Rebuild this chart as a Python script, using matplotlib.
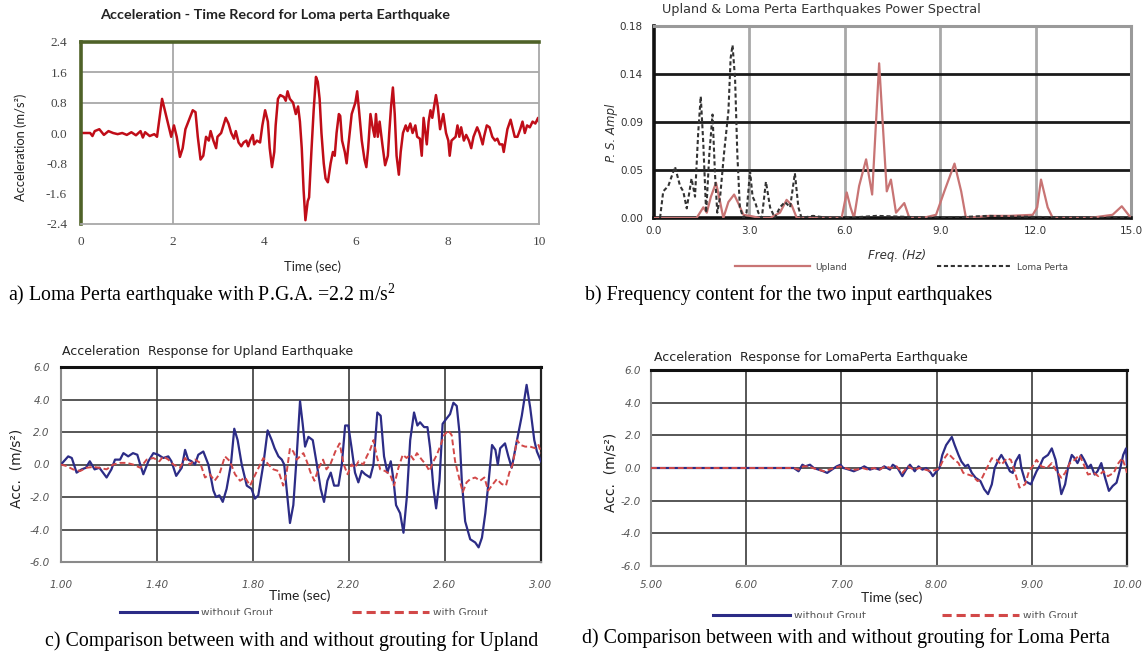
import matplotlib
matplotlib.use("Agg")
import matplotlib.pyplot as plt
from matplotlib.transforms import Bbox, TransformedBbox

# ---------------- data ----------------
# (a) Loma Perta acceleration record
lp_time = [0.00, 0.20, 0.25, 0.30, 0.40, 0.50, 0.60, 0.70, 0.80, 0.90,
           1.00, 1.10, 1.20, 1.30, 1.35, 1.40, 1.50, 1.60, 1.66, 1.77,
           1.97, 2.03, 2.09, 2.16, 2.22, 2.28, 2.44, 2.50, 2.55, 2.61,
           2.67, 2.73, 2.79, 2.83, 2.89, 2.95, 2.98, 3.06, 3.16, 3.22,
           3.28, 3.34, 3.38, 3.44, 3.50, 3.55, 3.61, 3.65, 3.69, 3.75,
           3.78, 3.84, 3.91, 3.96, 4.02, 4.08, 4.12, 4.17, 4.22, 4.25,
           4.30, 4.35, 4.43, 4.47, 4.51, 4.56, 4.63, 4.69, 4.74, 4.78,
           4.82, 4.86, 4.90, 4.95, 4.98, 5.03, 5.08, 5.13, 5.17, 5.21,
           5.25, 5.30, 5.34, 5.39, 5.45, 5.50, 5.54, 5.58, 5.63, 5.66,
           5.70, 5.76, 5.80, 5.84, 5.91, 5.99, 6.03, 6.07, 6.13, 6.19,
           6.23, 6.27, 6.32, 6.36, 6.41, 6.44, 6.48, 6.52, 6.58, 6.64,
           6.70, 6.73, 6.77, 6.81, 6.85, 6.89, 6.94, 6.98, 7.03, 7.09,
           7.13, 7.19, 7.24, 7.30, 7.34, 7.40, 7.44, 7.48, 7.52, 7.55,
           7.59, 7.63, 7.67, 7.71, 7.75, 7.79, 7.84, 7.91, 7.97, 8.02,
           8.05, 8.09, 8.18, 8.22, 8.26, 8.30, 8.36, 8.41, 8.47, 8.52,
           8.57, 8.65, 8.70, 8.77, 8.80, 8.86, 8.92, 8.98, 9.04, 9.09,
           9.14, 9.20, 9.23, 9.27, 9.31, 9.38, 9.41, 9.47, 9.53, 9.59,
           9.64, 9.69, 9.74, 9.80, 9.86, 9.92, 9.98, 10.00]
lp_acc = [0.00, 0.00, -0.08, 0.05, 0.10, -0.05, 0.05, 0.00, -0.03, 0.00,
          -0.05, 0.02, -0.06, 0.05, -0.12, 0.02, -0.08, -0.03, -0.10, 0.90,
          -0.10, 0.20, -0.10, -0.63, -0.40, 0.10, 0.60, 0.55, -0.10, -0.70,
          -0.60, -0.10, -0.20, 0.05, -0.20, -0.40, -0.10, 0.00, 0.40, 0.25,
          0.00, -0.15, 0.05, -0.25, -0.35, -0.25, -0.20, -0.35, -0.20, -0.05,
          -0.30, -0.20, -0.25, 0.20, 0.60, 0.30, -0.40, -0.90, -0.50, 0.20,
          0.90, 1.00, 0.95, 0.85, 1.10, 0.90, 0.80, 0.50, 0.70, 0.30,
          -0.40, -1.50, -2.30, -1.80, -1.70, -0.50, 0.60, 1.48, 1.35, 0.90,
          0.00, -0.80, -1.20, -1.30, -0.80, -0.50, -0.60, 0.00, 0.50, 0.45,
          -0.20, -0.50, -0.80, -0.30, 0.50, 0.80, 1.10, 0.60, -0.20, -0.70,
          -0.90, -0.40, 0.50, 0.20, -0.10, 0.50, -0.10, 0.30, -0.30, -0.85,
          -0.60, 0.00, 0.70, 1.20, 0.50, -0.60, -1.10, -0.50, 0.00, 0.20,
          0.05, 0.25, 0.00, 0.20, -0.10, -0.15, -0.60, 0.40, 0.00, -0.30,
          0.30, 0.60, 0.40, 0.70, 1.00, 0.70, 0.10, 0.50, 0.00, -0.20,
          -0.60, -0.20, -0.10, 0.20, -0.10, 0.15, -0.20, -0.05, -0.20, -0.40,
          -0.10, 0.15, 0.00, -0.30, -0.10, 0.20, 0.15, -0.10, -0.20, -0.15,
          -0.30, -0.30, -0.50, -0.20, 0.10, 0.35, 0.20, -0.10, -0.10, 0.10,
          0.30, 0.00, 0.20, 0.15, 0.30, 0.25, 0.40, 0.30]

# (b) power spectra
up_freq = [0.0, 1.34, 1.55, 1.66, 1.79, 1.95, 2.08, 2.18, 2.34, 2.52,
           2.68, 2.81, 3.02, 3.33, 3.65, 3.96, 4.17, 4.33, 4.49, 5.90,
           6.06, 6.18, 6.29, 6.45, 6.67, 6.86, 7.08, 7.19, 7.32, 7.45,
           7.61, 7.87, 8.03, 8.45, 8.87, 9.13, 9.45, 9.66, 9.81, 10.55,
           11.18, 11.91, 12.05, 12.17, 12.38, 12.54, 13.69, 14.42, 14.71, 15.0]
up_amp = [0.0, 0.0, 0.010, 0.005, 0.020, 0.033, 0.015, 0.0, 0.015, 0.022,
          0.012, 0.003, 0.002, 0.0, 0.0, 0.005, 0.017, 0.012, 0.0, 0.0,
          0.024, 0.010, 0.0, 0.030, 0.055, 0.022, 0.145, 0.090, 0.025, 0.036,
          0.005, 0.014, 0.0, 0.0, 0.003, 0.025, 0.051, 0.025, 0.0, 0.002,
          0.002, 0.003, 0.010, 0.036, 0.010, 0.0, 0.0, 0.003, 0.011, 0.0]
lpf_freq = [0.19, 0.29, 0.45, 0.66, 0.82, 0.92, 1.03, 1.18, 1.29, 1.39,
            1.47, 1.55, 1.64, 1.74, 1.84, 1.92, 1.99, 2.08, 2.20, 2.34,
            2.41, 2.47, 2.55, 2.62, 2.70, 2.81, 2.91, 3.02, 3.10, 3.18,
            3.28, 3.39, 3.52, 3.65, 3.80, 3.96, 4.12, 4.28, 4.43, 4.54,
            4.64, 5.0, 5.5, 6.0, 7.0, 8.0, 9.0, 10.5, 12.0, 15.0]
lpf_amp = [0.0, 0.025, 0.03, 0.048, 0.03, 0.025, 0.009, 0.037, 0.02, 0.08,
           0.114, 0.07, 0.005, 0.06, 0.097, 0.04, 0.005, 0.02, 0.06, 0.10,
           0.15, 0.162, 0.13, 0.06, 0.01, 0.0, 0.005, 0.044, 0.02, 0.015,
           0.005, 0.0, 0.034, 0.01, 0.0, 0.01, 0.015, 0.01, 0.042, 0.01,
           0.0, 0.002, 0.0, 0.0, 0.002, 0.001, 0.0, 0.002, 0.001, 0.0]

# (c) Upland response
cu_t_wo = [1.000, 1.030, 1.045, 1.065, 1.086, 1.104, 1.120, 1.140, 1.160, 1.190,
           1.210, 1.225, 1.246, 1.260, 1.280, 1.300, 1.318, 1.330, 1.343, 1.364,
           1.385, 1.405, 1.426, 1.447, 1.460, 1.480, 1.503, 1.517, 1.530, 1.544,
           1.558, 1.572, 1.593, 1.614, 1.635, 1.646, 1.660, 1.674, 1.690, 1.708,
           1.722, 1.736, 1.753, 1.774, 1.794, 1.808, 1.822, 1.843, 1.861, 1.878,
           1.890, 1.906, 1.920, 1.930, 1.940, 1.954, 1.968, 1.982, 1.996, 2.007,
           2.017, 2.031, 2.049, 2.066, 2.082, 2.096, 2.110, 2.124, 2.138, 2.156,
           2.170, 2.184, 2.197, 2.211, 2.225, 2.239, 2.253, 2.267, 2.288, 2.302,
           2.318, 2.332, 2.346, 2.360, 2.374, 2.385, 2.396, 2.413, 2.427, 2.441,
           2.455, 2.471, 2.485, 2.496, 2.513, 2.527, 2.538, 2.552, 2.563, 2.577,
           2.590, 2.605, 2.621, 2.635, 2.649, 2.660, 2.670, 2.684, 2.705, 2.726,
           2.740, 2.754, 2.768, 2.782, 2.796, 2.810, 2.820, 2.830, 2.850, 2.864,
           2.878, 2.900, 2.920, 2.940, 2.955, 2.972, 2.983, 3.000]
cu_a_wo = [0.0, 0.5, 0.4, -0.5, -0.3, -0.2, 0.2, -0.3, -0.2, -0.8,
           -0.3, 0.3, 0.3, 0.7, 0.5, 0.7, 0.6, 0.0, -0.6, 0.2,
           0.7, 0.6, 0.4, 0.5, 0.2, -0.7, -0.2, 0.9, 0.3, 0.2,
           0.0, 0.6, 0.8, 0.0, -1.6, -2.0, -1.9, -2.3, -1.5, 0.0,
           2.2, 1.5, 0.0, -1.3, -1.5, -2.1, -1.9, 0.0, 2.1, 1.5,
           1.0, 0.5, 0.3, 0.0, -1.5, -3.6, -2.5, 0.5, 3.9, 2.5,
           1.1, 1.7, 1.5, 0.0, -1.5, -2.3, -1.0, -0.5, -1.3, -1.3,
           0.0, 2.4, 2.4, 1.0, -0.5, -1.1, -0.4, -0.6, -0.8, 0.0,
           3.2, 3.0, 0.5, -0.5, 0.2, -0.9, -2.5, -3.0, -4.2, -2.0,
           1.5, 3.2, 2.4, 2.6, 2.3, 2.3, 1.0, -1.5, -2.7, -1.0,
           2.5, 2.8, 3.1, 3.8, 3.6, 2.0, -1.0, -3.5, -4.6, -4.8,
           -5.1, -4.5, -3.0, -1.0, 1.2, 0.9, 0.0, 1.0, 1.3, 0.5,
           -0.2, 1.5, 3.0, 4.9, 3.5, 1.5, 0.8, 0.2]
cu_t_w = [1.000, 1.024, 1.050, 1.080, 1.107, 1.135, 1.160, 1.190, 1.218, 1.246,
          1.274, 1.300, 1.330, 1.357, 1.385, 1.410, 1.426, 1.447, 1.468, 1.496,
          1.517, 1.537, 1.558, 1.580, 1.600, 1.620, 1.640, 1.660, 1.683, 1.704,
          1.725, 1.746, 1.767, 1.788, 1.810, 1.830, 1.843, 1.864, 1.885, 1.906,
          1.926, 1.940, 1.954, 1.968, 1.982, 1.996, 2.010, 2.024, 2.040, 2.056,
          2.074, 2.092, 2.106, 2.122, 2.143, 2.161, 2.178, 2.194, 2.211, 2.225,
          2.240, 2.260, 2.274, 2.288, 2.302, 2.316, 2.330, 2.350, 2.371, 2.388,
          2.406, 2.424, 2.440, 2.455, 2.469, 2.483, 2.503, 2.520, 2.535, 2.552,
          2.566, 2.582, 2.596, 2.614, 2.628, 2.642, 2.660, 2.674, 2.690, 2.705,
          2.726, 2.746, 2.764, 2.780, 2.800, 2.816, 2.836, 2.854, 2.868, 2.882,
          2.900, 2.915, 2.934, 2.955, 2.976, 2.990, 3.000]
cu_a_w = [0.0, -0.1, -0.3, -0.4, -0.2, -0.15, -0.2, -0.3, 0.0, 0.1,
          0.1, 0.0, -0.2, 0.3, 0.4, 0.2, 0.5, 0.3, 0.0, -0.2,
          0.4, 0.0, 0.3, 0.1, -0.8, -0.6, -1.0, -0.6, 0.5, 0.2,
          -0.6, -1.0, -0.8, -1.3, -0.6, 0.0, 0.4, 0.0, -0.3, -0.4,
          -1.3, -0.5, 1.0, 0.8, 0.3, 0.5, 0.7, 0.2, -0.5, -1.0,
          -0.2, 0.3, -0.3, 0.0, 0.8, 1.3, 0.0, -0.6, 0.0, -0.2,
          0.2, 0.0, 0.5, 0.9, 1.5, 0.5, -0.3, -0.4, -0.6, -1.3,
          -0.2, 0.6, 0.4, 0.6, 0.3, 0.7, 0.3, 0.0, -0.4, 0.2,
          0.6, 1.2, 1.8, 2.1, 1.8, 0.2, -0.9, -1.7, -1.1, -0.9,
          -0.8, -1.0, -0.8, -1.6, -1.2, -0.9, -1.2, -1.3, -0.5, 0.0,
          1.5, 1.2, 1.1, 1.1, 1.0, 1.2, 0.7]

# (d) Loma Perta response
cd_t_wo = [5.00, 6.50, 6.55, 6.59, 6.62, 6.67, 6.71, 6.76, 6.81, 6.85,
           6.90, 6.95, 6.99, 7.02, 7.08, 7.13, 7.21, 7.24, 7.30, 7.35,
           7.40, 7.45, 7.51, 7.54, 7.59, 7.64, 7.68, 7.72, 7.77, 7.81,
           7.85, 7.89, 7.94, 7.96, 8.00, 8.03, 8.06, 8.10, 8.16, 8.19,
           8.23, 8.26, 8.30, 8.33, 8.37, 8.41, 8.46, 8.50, 8.54, 8.58,
           8.61, 8.65, 8.68, 8.72, 8.77, 8.80, 8.83, 8.87, 8.89, 8.93,
           8.96, 8.99, 9.02, 9.05, 9.09, 9.12, 9.17, 9.21, 9.25, 9.28,
           9.31, 9.35, 9.38, 9.42, 9.45, 9.48, 9.52, 9.55, 9.59, 9.62,
           9.66, 9.69, 9.73, 9.77, 9.81, 9.85, 9.89, 9.93, 9.96, 9.99,
           10.00]
cd_a_wo = [0.0, 0.0, -0.2, 0.2, 0.1, 0.2, 0.0, -0.1, -0.2, -0.3,
           -0.1, 0.1, 0.2, 0.0, -0.1, -0.2, 0.0, 0.1, -0.1, 0.0,
           -0.1, 0.1, -0.1, 0.2, 0.0, -0.5, -0.1, 0.2, -0.2, 0.1,
           -0.1, 0.0, -0.3, -0.5, -0.2, 0.0, 0.8, 1.4, 1.9, 1.4,
           0.8, 0.4, 0.1, 0.2, -0.3, -0.6, -0.8, -1.3, -1.6, -1.0,
           0.0, 0.5, 0.8, 0.4, -0.2, -0.3, 0.4, 0.8, 0.0, -0.8,
           -0.9, -1.0, -0.6, -0.2, 0.2, 0.6, 0.8, 1.2, 0.5, -0.5,
           -1.6, -1.0, 0.0, 0.8, 0.6, 0.3, 0.8, 0.5, 0.0, 0.2,
           -0.4, -0.2, 0.3, -0.6, -1.4, -1.1, -0.9, 0.0, 0.8, 1.2,
           0.2]
cd_t_w = [5.00, 6.50, 6.55, 6.60, 6.65, 6.70, 6.76, 6.82, 6.87, 6.93,
          6.98, 7.04, 7.10, 7.16, 7.22, 7.28, 7.34, 7.40, 7.46, 7.52,
          7.58, 7.64, 7.70, 7.76, 7.82, 7.88, 7.94, 8.00, 8.03, 8.07,
          8.12, 8.17, 8.23, 8.28, 8.33, 8.38, 8.43, 8.47, 8.52, 8.58,
          8.63, 8.68, 8.74, 8.78, 8.82, 8.87, 8.93, 8.97, 9.02, 9.05,
          9.10, 9.16, 9.21, 9.26, 9.31, 9.35, 9.40, 9.45, 9.50, 9.54,
          9.59, 9.65, 9.70, 9.75, 9.80, 9.86, 9.91, 9.95, 9.98, 10.00]
cd_a_w = [0.0, 0.0, -0.1, 0.1, 0.1, 0.0, -0.1, -0.2, -0.1, 0.0,
          0.1, 0.0, -0.1, -0.1, 0.0, -0.1, 0.0, -0.1, 0.1, 0.0,
          0.1, -0.3, 0.1, -0.1, 0.0, -0.1, -0.2, -0.1, 0.0, 0.5,
          0.9, 0.6, 0.3, -0.3, -0.4, -0.5, -0.8, -0.7, -0.1, 0.6,
          0.5, 0.2, 0.6, 0.5, -0.2, -1.2, -1.0, -0.2, 0.2, 0.5,
          0.1, 0.0, 0.3, -0.2, -0.6, -0.3, 0.3, 0.5, 0.8, 0.3,
          -0.4, -0.3, -0.5, -0.2, -0.5, -0.3, 0.3, 0.6, 0.1, -0.3]

# tick labels
a_xticks = [0, 2, 4, 6, 8, 10]
a_yticks = [-2.4, -1.6, -0.8, 0.0, 0.8, 1.6, 2.4]
b_xticks = [0, 3, 6, 9, 12, 15]
b_yticks = [0.0, 0.045, 0.09, 0.135, 0.18]
b_ylabels = ["0.00", "0.05", "0.09", "0.14", "0.18"]
c_xticks = [1.0, 1.4, 1.8, 2.2, 2.6, 3.0]
d_xticks = [5.0, 6.0, 7.0, 8.0, 9.0, 10.0]
cd_yticks = [-6, -4, -2, 0, 2, 4, 6]

# ---------------- layout helpers ----------------
W, H = 1146, 655
plt.rcParams["font.family"] = ["DejaVu Sans"]
plt.rcParams["mathtext.fontset"] = "custom"
plt.rcParams["mathtext.rm"] = "Liberation Serif"
plt.rcParams["mathtext.it"] = "Liberation Serif:italic"
fig = plt.figure(figsize=(W / 100, H / 100), dpi=100)
fig.patch.set_facecolor("white")


def px_axes(x0, y0, x1, y1):
    return fig.add_axes([x0 / W, 1 - y1 / H, (x1 - x0) / W, (y1 - y0) / H])


def ftext(x, y, s, **kw):
    return fig.text(x / W, 1 - y / H, s, **kw)


SERIF = "Liberation Serif"
CAP = 14.3

# ---------------- (a) ----------------
ax = px_axes(81, 42, 539, 224)
ax.plot(lp_time, lp_acc, color="#c00d18", lw=1.8)
ax.set_xlim(0, 10)
ax.set_ylim(-2.4, 2.4)
ax.set_xticks(a_xticks)
ax.set_xticklabels([str(v) for v in a_xticks])
ax.set_yticks(a_yticks)
ax.set_yticklabels(["%.1f" % v for v in a_yticks])
for v in (0.8, 1.6):
    ax.axhline(v, color="#a8a8a8", lw=1.3, zorder=0)
ax.axvline(2, color="#a8a8a8", lw=1.3, zorder=0)
for s in ("left", "top"):
    ax.spines[s].set_color("#4f6228")
    ax.spines[s].set_linewidth(2.6)
for s in ("right", "bottom"):
    ax.spines[s].set_color("#a8a8a8")
    ax.spines[s].set_linewidth(1.3)
ax.tick_params(length=0, labelsize=9.5, labelcolor="#444444")
ax.tick_params(axis="y", pad=10)
ax.tick_params(axis="x", pad=9)
for t in ax.get_xticklabels() + ax.get_yticklabels():
    t.set_family(SERIF)
ftext(275, 15, "Acceleration - Time Record for Loma perta Earthquake",
      family="Lato", weight="bold", fontsize=10.4, ha="center", va="center", color="#222222")
ftext(21, 147, "Acceleration (m/s\u00b2)", family="Lato", fontsize=9.3, rotation=90,
      ha="center", va="center", color="#222222")
ftext(312, 267, "Time (sec)", family="Lato", fontsize=9.3, ha="center", va="center",
      color="#222222")
ftext(8, 295, "a) Loma Perta earthquake with P.G.A. =2.2 m/s$^2$", family=SERIF,
      fontsize=CAP, ha="left", va="center")

# ---------------- (b) ----------------
ax = px_axes(654, 26, 1131, 218)
l_up, = ax.plot(up_freq, up_amp, color="#c87474", lw=1.6, label="Upland", zorder=3)
l_lp, = ax.plot(lpf_freq, lpf_amp, color="#333333", lw=1.5, ls=(0, (2, 1.3)),
                label="Loma Perta", zorder=4)
ax.set_xlim(0, 15)
ax.set_ylim(0, 0.18)
ax.set_xticks(b_xticks)
ax.set_xticklabels(["%.1f" % v for v in b_xticks])
ax.set_yticks(b_yticks)
ax.set_yticklabels(b_ylabels)
for v in b_yticks[1:4]:
    ax.axhline(v, color="#1a1a1a", lw=2.0, zorder=1)
for v in b_xticks[1:5]:
    ax.axvline(v, color="#a8a8a8", lw=2.0, zorder=0)
for s in ("left", "bottom"):
    ax.spines[s].set_color("#111111")
    ax.spines[s].set_linewidth(2.6)
for s in ("right", "top"):
    ax.spines[s].set_color("#9a9a9a")
    ax.spines[s].set_linewidth(2.2)
ax.tick_params(length=0, labelsize=7.5, labelcolor="#333333")
ax.tick_params(axis="y", pad=8)
ax.tick_params(axis="x", pad=6)
ftext(662, 10, "Upland & Loma Perta Earthquakes Power Spectral", fontsize=9.2,
      ha="left", va="center", color="#333333")
ftext(612, 133, "P. S. Ampl", fontsize=8.5, style="italic", rotation=90,
      ha="center", va="center", color="#333333")
ftext(897, 255, "Freq. (Hz)", fontsize=8.5, style="italic", ha="center", va="center",
      color="#333333")
leg = ax.legend(handles=[l_up, l_lp], loc="center left", ncol=2, frameon=False,
                bbox_to_anchor=(735 / W, 1 - 267 / H), bbox_transform=fig.transFigure,
                fontsize=6.5, handlelength=8.3, handletextpad=0.6, columnspacing=9.9,
                borderpad=0, borderaxespad=0)
for t in leg.get_texts():
    t.set_color("#444444")
ftext(585, 295, "b) Frequency content for the two input earthquakes", family=SERIF,
      fontsize=CAP, ha="left", va="center")


# ---------------- (c), (d) ----------------
def response_panel(rect, t_wo, a_wo, t_w, a_w, xticks, title, title_xy,
                   ylab_xy, xlab_xy, leg_x, leg_y, colsp, clip_y, ypad, xpad):
    ax = px_axes(*rect)
    lw_, = ax.plot(t_wo, a_wo, color="#2c2c86", lw=1.6, label="without Grout", zorder=3)
    lg_, = ax.plot(t_w, a_w, color="#d24848", lw=1.4, ls=(0, (3, 1.6)),
                   label="with Grout", zorder=4)
    ax.set_xlim(xticks[0], xticks[-1])
    ax.set_ylim(-6, 6)
    ax.set_xticks(xticks)
    ax.set_xticklabels(["%.2f" % v for v in xticks])
    ax.set_yticks(cd_yticks)
    ax.set_yticklabels(["%.1f" % v for v in cd_yticks])
    ax.grid(True, color="#3a3a3a", lw=1.2)
    ax.set_axisbelow(True)
    ax.spines["top"].set_color("#111111")
    ax.spines["top"].set_linewidth(2.2)
    ax.spines["right"].set_color("#222222")
    ax.spines["right"].set_linewidth(1.6)
    for s in ("left", "bottom"):
        ax.spines[s].set_color("#8a8a8a")
        ax.spines[s].set_linewidth(1.5)
    ax.tick_params(length=0, labelsize=7.5, labelcolor="#555555")
    ax.tick_params(axis="y", pad=ypad)
    ax.tick_params(axis="x", pad=xpad)
    for t in ax.get_xticklabels() + ax.get_yticklabels():
        t.set_style("italic")
    ftext(title_xy[0], title_xy[1], title, fontsize=9.0, ha="left", va="center",
          color="#222222")
    ftext(ylab_xy[0], ylab_xy[1], "Acc.  (m/s\u00b2)", fontsize=10, rotation=90,
          ha="center", va="center", color="#222222")
    ftext(xlab_xy[0], xlab_xy[1], "Time (sec)", family="Lato", fontsize=10,
          ha="center", va="center", color="#222222")
    leg = ax.legend(handles=[lw_, lg_], loc="center left", ncol=2, frameon=False,
                    bbox_to_anchor=(leg_x / W, 1 - leg_y / H),
                    bbox_transform=fig.transFigure, fontsize=7.5, handlelength=7.4,
                    handletextpad=0.35, columnspacing=colsp, borderpad=0,
                    borderaxespad=0)
    box = TransformedBbox(Bbox.from_extents(0, 1 - clip_y / H, 1, 1), fig.transFigure)
    for t in leg.get_texts():
        t.set_color("#555555")
        t.set_clip_box(box)
        t.set_clip_on(True)
    for h in leg.get_lines():
        h.set_linewidth(2.2)
    return ax


response_panel((61, 367, 541, 562), cu_t_wo, cu_a_wo, cu_t_w, cu_a_w, c_xticks,
               "Acceleration  Response for Upland Earthquake", (62, 352),
               (17, 468), (300, 596), 120, 613, 7.6, 615, 8, 13)
ftext(45, 641, "c) Comparison between with and without grouting for Upland",
      family=SERIF, fontsize=CAP, ha="left", va="center")

response_panel((651, 370, 1127, 566), cd_t_wo, cd_a_wo, cd_t_w, cd_a_w, d_xticks,
               "Acceleration  Response for LomaPerta Earthquake", (654, 357),
               (610, 472), (892, 598), 713, 616, 7.3, 618, 7, 10)
ftext(582, 638, "d) Comparison between with and without grouting for Loma Perta",
      family=SERIF, fontsize=CAP, ha="left", va="center")

fig.savefig("out.png", dpi=100, facecolor="white")
